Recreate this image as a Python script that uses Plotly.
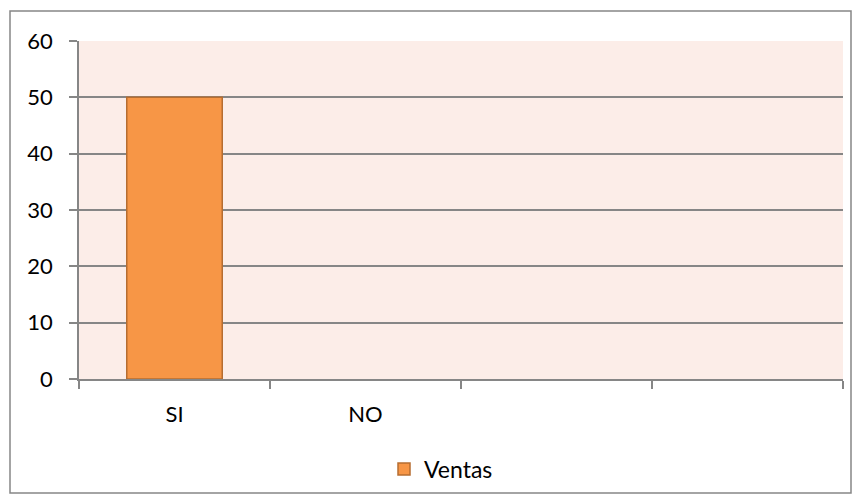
import plotly.graph_objects as go

categories = ["SI", "NO", " ", "  "]
tick_labels = ["SI", "NO", "", ""]
ventas = [50, 0, None, None]
y_ticks = [0, 10, 20, 30, 40, 50, 60]

fig = go.Figure()
fig.add_trace(go.Bar(
    x=categories, y=ventas, name="Ventas",
    marker=dict(color="#F79646", line=dict(color="#B66D31", width=[1.5, 0, 0, 0])),
    width=0.5, showlegend=True,
))

font = dict(family="Lato, 'Open Sans', sans-serif", size=22, color="#000000")
fig.update_layout(
    width=861, height=504,
    margin=dict(l=79, r=18, t=41, b=125, autoexpand=False),
    paper_bgcolor="white",
    plot_bgcolor="#FCEDE8",
    font=font,
    showlegend=True,
    legend=dict(orientation="h", x=(384-79)/764, xanchor="left",
                y=-(469-379)/338, yanchor="middle",
                font=dict(size=23), itemwidth=30),
    xaxis=dict(
        type="category", categoryorder="array", categoryarray=categories,
        tickvals=categories, ticktext=tick_labels,
        tickson="boundaries", ticks="outside", ticklen=8, tickcolor="#868686", tickwidth=1.5,
        showline=True, linecolor="#868686", linewidth=1.5,
        showgrid=False, range=[-0.5, 3.5], ticklabelstandoff=15, automargin=False,
    ),
    yaxis=dict(
        range=[0, 60], tickvals=y_ticks,
        showgrid=True, gridcolor="#868686", gridwidth=1.5,
        showline=True, linecolor="#868686", linewidth=1.5,
        ticks="outside", ticklen=8, tickcolor="#868686", tickwidth=1.5,
        zeroline=False, ticklabelstandoff=12, automargin=False,
    ),
    shapes=[dict(type="rect", xref="paper", yref="paper",
                 x0=-(79-10)/764, x1=(851-79)/764, y0=-(493-379)/338, y1=(379-11)/338,
                 line=dict(color="#868686", width=1.5), fillcolor="rgba(0,0,0,0)", layer="below")],
)

fig.write_html("out.html", config={"displayModeBar": False},
               post_script="document.body.style.margin='0';")
